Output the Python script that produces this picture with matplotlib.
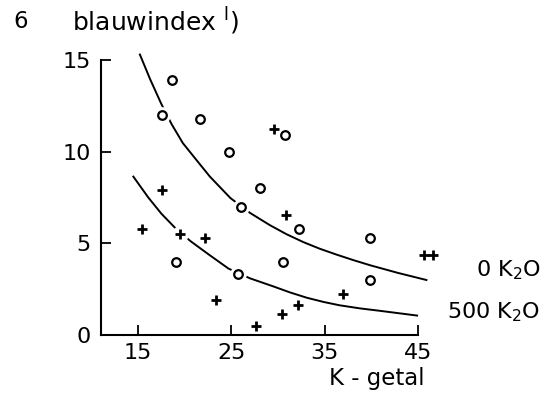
import matplotlib
matplotlib.use("Agg")
import matplotlib.pyplot as plt

# %% data
# 0 K2O (open circles)
circ_x = [18.6, 17.6, 21.6, 24.7, 28.1, 30.8, 26.0, 19.1, 25.7, 32.3, 39.9, 30.5, 39.9]
circ_y = [13.9, 12.0, 11.8, 10.0, 8.0, 10.9, 7.0, 4.0, 3.3, 5.8, 5.3, 4.0, 3.0]

# 500 K2O (plus signs)
plus_x = [17.6, 15.4, 19.5, 22.2, 23.4, 27.6, 29.6, 30.9, 30.4, 32.1, 37.0, 45.6, 46.6]
plus_y = [7.9, 5.8, 5.5, 5.3, 1.9, 0.5, 11.25, 6.55, 1.15, 1.65, 2.25, 4.35, 4.35]

# hand-drawn trend curves
curve0_x = [15.2, 16.3, 17.5, 18.6, 19.8, 21.3, 22.7, 24.9, 27.0, 29.1, 30.9, 32.7, 34.5, 36.3, 38.1, 39.9, 42.9, 45.9]
curve0_y = [15.3, 13.95, 12.6, 11.5, 10.47, 9.52, 8.64, 7.47, 6.66, 6.0, 5.5, 5.07, 4.7, 4.38, 4.08, 3.8, 3.38, 3.0]
curve500_x = [14.5, 16.1, 17.5, 19.0, 20.6, 22.5, 24.7, 27.0, 29.5, 31.3, 33.1, 34.9, 36.6, 38.8, 40.9, 42.9, 44.9]
curve500_y = [8.64, 7.5, 6.62, 5.83, 5.13, 4.42, 3.62, 3.09, 2.65, 2.32, 2.03, 1.8, 1.62, 1.45, 1.32, 1.19, 1.06]

xticks = [15, 25, 35, 45]
yticks = [0, 5, 10, 15]

plt.rcParams["font.family"] = "DejaVu Sans"
plt.rcParams["mathtext.fontset"] = "dejavusans"

fig = plt.figure(figsize=(5.46, 3.93), dpi=100)
ax = fig.add_axes([0.1844, 0.1476, 0.5812, 0.6997])

ax.plot(curve0_x, curve0_y, "k-", lw=1.4, zorder=2, clip_on=False)
ax.plot(curve500_x, curve500_y, "k-", lw=1.4, zorder=2, clip_on=False)

# white halo so the curves break around the symbols
ax.plot(circ_x + plus_x, circ_y + plus_y, "o", ms=12, mfc="white", mec="none",
        ls="none", zorder=2.2, clip_on=False)
ax.plot(circ_x, circ_y, "o", ms=6.2, mfc="white", mec="black", mew=1.6,
        ls="none", zorder=3, clip_on=False)
ax.plot(plus_x, plus_y, "+", ms=7.5, mec="black", mew=2.0,
        ls="none", zorder=3, clip_on=False)

ax.set_xlim(11, 45)
ax.set_ylim(0, 15)
ax.set_xticks(xticks)
ax.set_yticks(yticks)
ax.tick_params(direction="in", length=7, width=1.3, labelsize=16)
ax.tick_params(axis="x", pad=6)
ax.tick_params(axis="y", pad=7)
for side in ["top", "right"]:
    ax.spines[side].set_visible(False)
for side in ["left", "bottom"]:
    ax.spines[side].set_linewidth(1.5)

fig.text(0.024, 0.945, "6", fontsize=16.5, ha="left", va="center")
fig.text(0.132, 0.945, "blauwindex $^{\\mathregular{l}}$)", fontsize=18, ha="left", va="center")
fig.text(0.99, 0.313, "0 K$_2$O", fontsize=16, ha="right", va="center")
fig.text(0.99, 0.206, "500 K$_2$O", fontsize=16, ha="right", va="center")
fig.text(0.69, 0.038, "K - getal", fontsize=16.5, ha="center", va="center")

fig.savefig("out.png", dpi=100)
